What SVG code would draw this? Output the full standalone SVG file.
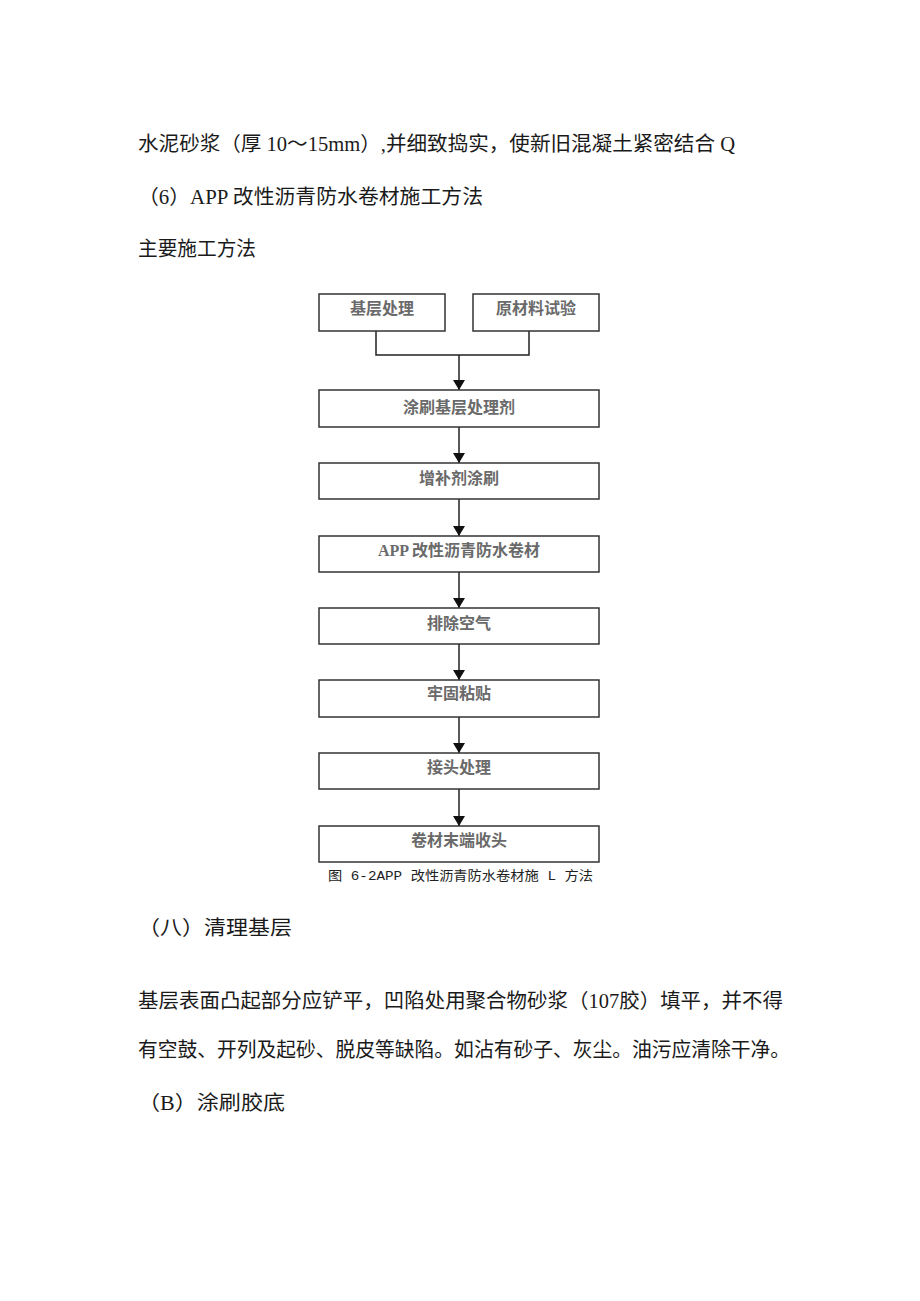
<svg xmlns="http://www.w3.org/2000/svg" width="920" height="1301" viewBox="0 0 920 1301">
<defs>
<style>
.body{font-family:"Liberation Serif","Noto Sans CJK SC",serif;font-size:20px;fill:#1a1a1a}
.box{fill:#fff;stroke:#333;stroke-width:1.5}
.lbl{font-family:"Liberation Serif","Noto Sans CJK SC",serif;font-size:16px;fill:#6a6a6a;text-anchor:middle;font-weight:bold}
.cap{font-family:"Liberation Mono","Noto Sans CJK SC",monospace;font-size:13px;fill:#222}
.ln{fill:none;stroke:#222;stroke-width:1.5}
</style>
<marker id="ah" viewBox="0 0 10 12" refX="10" refY="6" markerWidth="10" markerHeight="12" markerUnits="userSpaceOnUse" orient="auto">
<path d="M0,0 L10,6 L0,12 Z" fill="#111"/>
</marker>
</defs>
<rect width="920" height="1301" fill="#fff"/>

<g id="text-top">
<text class="body" x="138" y="151" textLength="597" lengthAdjust="spacingAndGlyphs">水泥砂浆（厚 10～15mm）,并细致捣实，使新旧混凝土紧密结合 Q</text>
<text class="body" x="138" y="204" textLength="345" lengthAdjust="spacingAndGlyphs">（6）APP 改性沥青防水卷材施工方法</text>
<text class="body" x="138" y="256" textLength="118" lengthAdjust="spacingAndGlyphs">主要施工方法</text>
</g>

<g id="connectors">
<polyline class="ln" points="376,331 376,355 529,355 529,331"/>
<line class="ln" x1="459" y1="355" x2="459" y2="390" marker-end="url(#ah)"/>
<line class="ln" x1="459" y1="427" x2="459" y2="463" marker-end="url(#ah)"/>
<line class="ln" x1="459" y1="499" x2="459" y2="536" marker-end="url(#ah)"/>
<line class="ln" x1="459" y1="572" x2="459" y2="608" marker-end="url(#ah)"/>
<line class="ln" x1="459" y1="644" x2="459" y2="680" marker-end="url(#ah)"/>
<line class="ln" x1="459" y1="717" x2="459" y2="753" marker-end="url(#ah)"/>
<line class="ln" x1="459" y1="789" x2="459" y2="826" marker-end="url(#ah)"/>
</g>

<g id="n1"><rect class="box" x="319" y="294" width="126" height="37"/><text class="lbl" x="382" y="314">基层处理</text></g>
<g id="n2"><rect class="box" x="473" y="294" width="126" height="37"/><text class="lbl" x="536" y="314">原材料试验</text></g>
<g id="n3"><rect class="box" x="319" y="390" width="280" height="37"/><text class="lbl" x="459" y="413">涂刷基层处理剂</text></g>
<g id="n4"><rect class="box" x="319" y="463" width="280" height="36"/><text class="lbl" x="459" y="484">增补剂涂刷</text></g>
<g id="n5"><rect class="box" x="319" y="536" width="280" height="36"/><text class="lbl" x="459" y="556">APP 改性沥青防水卷材</text></g>
<g id="n6"><rect class="box" x="319" y="608" width="280" height="36"/><text class="lbl" x="459" y="629">排除空气</text></g>
<g id="n7"><rect class="box" x="319" y="680" width="280" height="37"/><text class="lbl" x="459" y="699">牢固粘贴</text></g>
<g id="n8"><rect class="box" x="319" y="753" width="280" height="36"/><text class="lbl" x="459" y="773">接头处理</text></g>
<g id="n9"><rect class="box" x="319" y="826" width="280" height="36"/><text class="lbl" x="459" y="846">卷材末端收头</text></g>

<g id="caption">
<text class="cap" x="328" y="880" textLength="265" lengthAdjust="spacingAndGlyphs">图 6-2APP 改性沥青防水卷材施 L 方法</text>
</g>

<g id="text-bottom">
<text class="body" x="138" y="935" textLength="154" lengthAdjust="spacingAndGlyphs">（八）清理基层</text>
<text class="body" x="138" y="1008" textLength="645" lengthAdjust="spacingAndGlyphs">基层表面凸起部分应铲平，凹陷处用聚合物砂浆（107胶）填平，并不得</text>
<text class="body" x="138" y="1057" textLength="652" lengthAdjust="spacingAndGlyphs">有空鼓、开列及起砂、脱皮等缺陷。如沾有砂子、灰尘。油污应清除干净。</text>
<text class="body" x="138" y="1110" textLength="147" lengthAdjust="spacingAndGlyphs">（B）涂刷胶底</text>
</g>
</svg>
